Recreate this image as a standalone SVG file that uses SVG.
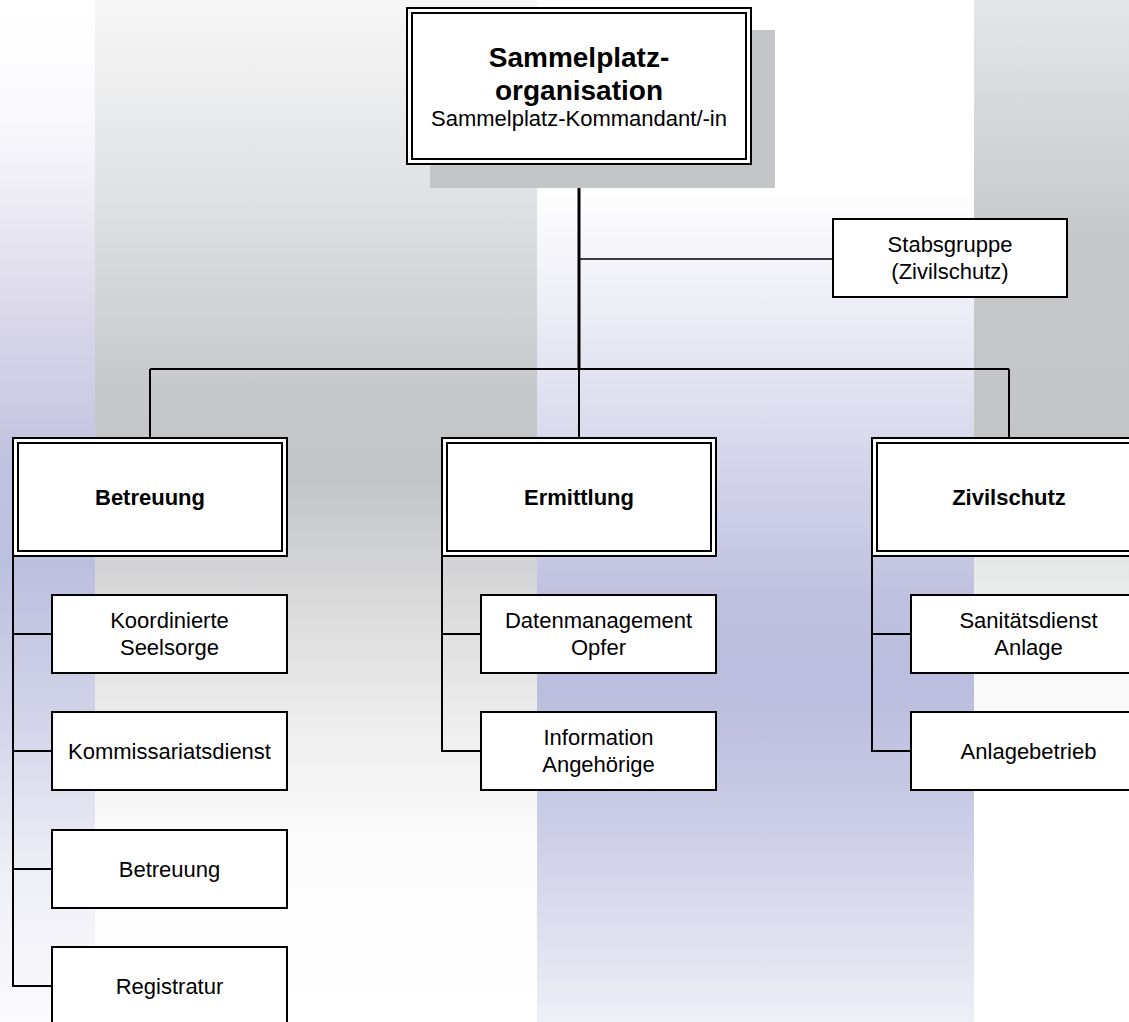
<svg xmlns="http://www.w3.org/2000/svg" width="1129" height="1022" viewBox="0 0 1129 1022">
<style>
.box{fill:#fff;stroke:#000;stroke-width:2}
.inner{fill:none;stroke:#000;stroke-width:2}
.t{font-family:"Liberation Sans",Arial,sans-serif;font-size:22px;fill:#000;text-anchor:middle}
.b{font-weight:bold}
.big{font-size:28px}
.c{fill:none;stroke:#000;stroke-width:2}
</style>
<defs>
<linearGradient id="gL" x1="0" y1="0" x2="0" y2="1">
<stop offset="0" stop-color="#ffffff"/>
<stop offset="0.12" stop-color="#f9f9fc"/>
<stop offset="0.3" stop-color="#dcd9ea"/>
<stop offset="0.45" stop-color="#c2c3e0"/>
<stop offset="0.55" stop-color="#bcc0df"/>
<stop offset="0.7" stop-color="#d2d3e9"/>
<stop offset="0.85" stop-color="#eeeef6"/>
<stop offset="1" stop-color="#fbfbfd"/>
</linearGradient>
<linearGradient id="gG" x1="0" y1="0" x2="0" y2="1">
<stop offset="0" stop-color="#f7f7f8"/>
<stop offset="0.2" stop-color="#dfe0e1"/>
<stop offset="0.38" stop-color="#c7c8ca"/>
<stop offset="0.47" stop-color="#c4c5c7"/>
<stop offset="0.6" stop-color="#dcdcdd"/>
<stop offset="0.72" stop-color="#efefef"/>
<stop offset="0.82" stop-color="#fbfbfb"/>
<stop offset="1" stop-color="#ffffff"/>
</linearGradient>
<linearGradient id="gB" x1="0" y1="0" x2="0" y2="1">
<stop offset="0" stop-color="#ffffff"/>
<stop offset="0.2" stop-color="#e6e6f3"/>
<stop offset="0.5" stop-color="#bec0df"/>
<stop offset="0.6" stop-color="#babddd"/>
<stop offset="0.75" stop-color="#cacbe5"/>
<stop offset="1" stop-color="#efeff7"/>
</linearGradient>
<linearGradient id="gR" x1="0" y1="0" x2="0" y2="1">
<stop offset="0" stop-color="#e5e6e7"/>
<stop offset="0.3" stop-color="#c7c8ca"/>
<stop offset="0.55" stop-color="#c4c5c7"/>
<stop offset="0.7" stop-color="#e4e5e5"/>
<stop offset="0.85" stop-color="#f8f8f8"/>
<stop offset="1" stop-color="#ffffff"/>
</linearGradient>
</defs>
<rect x="0" y="0" width="1129" height="1022" fill="#fff"/>
<g id="background">
<rect x="0" y="0" width="95" height="1022" fill="url(#gL)"/>
<rect x="95" y="0" width="442" height="1022" fill="url(#gG)"/>
<rect x="537" y="188" width="437" height="834" fill="url(#gB)"/>
<rect x="974" y="0" width="155" height="792" fill="url(#gR)"/>
</g>
<g id="connectors">
<path class="c" d="M579 164V369" style="stroke-width:3"/>
<path class="c" d="M579 259H833" style="stroke-width:1.5"/>
<path class="c" d="M150 369H1009M150 369V438M579 369V438M1009 369V438"/>
<path class="c" d="M13 497V634H52M13 497V751H52M13 497V869H52M13 497V986H52"/>
<path class="c" d="M442 497V634H481M442 497V751H481"/>
<path class="c" d="M872 497V634H911M872 497V751H911"/>
</g>
<g id="n-top">
<rect x="430" y="30" width="345" height="158" fill="#c4c5c7"/>
<rect class="box" x="407" y="8" width="344" height="156"/>
<rect class="inner" x="412" y="13" width="334" height="146"/>
<text class="t b big" x="579" y="67">Sammelplatz-</text>
<text class="t b big" x="579" y="100">organisation</text>
<text class="t" x="579" y="126">Sammelplatz-Kommandant/-in</text>
</g>
<g id="n-stabs">
<rect class="box" x="833" y="219" width="234" height="78"/>
<text class="t" x="950" y="252">Stabsgruppe</text>
<text class="t" x="950" y="279">(Zivilschutz)</text>
</g>
<g id="n-betreuung">
<rect class="box" x="13" y="438" width="274" height="118"/>
<rect class="inner" x="18" y="443" width="264" height="108"/>
<text class="t b" x="150" y="505">Betreuung</text>
</g>
<g id="n-ermittlung">
<rect class="box" x="442" y="438" width="274" height="118"/>
<rect class="inner" x="447" y="443" width="264" height="108"/>
<text class="t b" x="579" y="505">Ermittlung</text>
</g>
<g id="n-zivilschutz">
<rect class="box" x="872" y="438" width="274" height="118"/>
<rect class="inner" x="877" y="443" width="264" height="108"/>
<text class="t b" x="1009" y="505">Zivilschutz</text>
</g>
<g id="n-seelsorge">
<rect class="box" x="52" y="595" width="235" height="78"/>
<text class="t" x="169.5" y="628">Koordinierte</text>
<text class="t" x="169.5" y="655">Seelsorge</text>
</g>
<g id="n-kommissariat">
<rect class="box" x="52" y="712" width="235" height="78"/>
<text class="t" x="169.5" y="759">Kommissariatsdienst</text>
</g>
<g id="n-betreuung2">
<rect class="box" x="52" y="830" width="235" height="78"/>
<text class="t" x="169.5" y="877">Betreuung</text>
</g>
<g id="n-registratur">
<rect class="box" x="52" y="947" width="235" height="78"/>
<text class="t" x="169.5" y="994">Registratur</text>
</g>
<g id="n-daten">
<rect class="box" x="481" y="595" width="235" height="78"/>
<text class="t" x="598.5" y="628">Datenmanagement</text>
<text class="t" x="598.5" y="655">Opfer</text>
</g>
<g id="n-info">
<rect class="box" x="481" y="712" width="235" height="78"/>
<text class="t" x="598.5" y="745">Information</text>
<text class="t" x="598.5" y="772">Angehörige</text>
</g>
<g id="n-sanitaet">
<rect class="box" x="911" y="595" width="235" height="78"/>
<text class="t" x="1028.5" y="628">Sanitätsdienst</text>
<text class="t" x="1028.5" y="655">Anlage</text>
</g>
<g id="n-anlagebetrieb">
<rect class="box" x="911" y="712" width="235" height="78"/>
<text class="t" x="1028.5" y="759">Anlagebetrieb</text>
</g>
</svg>
